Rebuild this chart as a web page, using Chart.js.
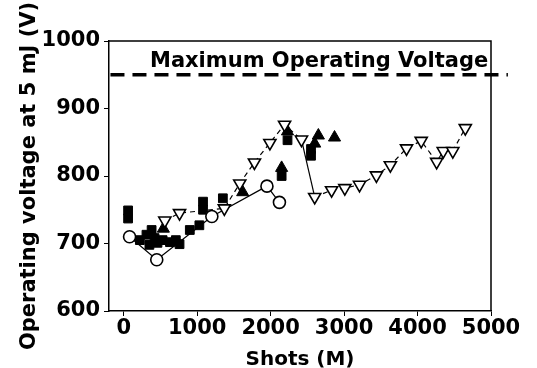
<!DOCTYPE html>
<html lang="en">
<head>
<meta charset="UTF-8" />
<title>Operating voltage vs shots</title>
<script src="https://cdn.jsdelivr.net/npm/chart.js"></script>
<style>
  html, body { margin: 0; padding: 0; background: #fff; }
</style>
</head>
<body>
<canvas id="voltChart" width="537" height="368"></canvas>
<script>
// open circles (solid line)
const circleShots = [80, 450, 1200, 1950, 2120];
const circleVolts = [710, 676, 740, 785, 761];

// open down-triangles (dashed line)
const downShots = [560, 760, 1370, 1580, 1780, 1990, 2190, 2420, 2600, 2830, 3010, 3210, 3440, 3630, 3850, 4050, 4260, 4350, 4480, 4650];
const downVolts = [734, 745, 752, 789, 820, 849, 876, 854, 769, 779, 782, 787, 801, 816, 841, 852, 821, 837, 837, 871];

// filled squares
const squareShots = [60, 60, 220, 310, 380, 350, 420, 460, 530, 630, 710, 760, 900, 1030, 1080, 1080, 1350, 2150, 2230, 2550, 2550];
const squareVolts = [749, 737, 705, 713, 720, 698, 708, 701, 705, 702, 705, 699, 720, 727, 762, 750, 767, 800, 853, 830, 840];

// filled up-triangles
const triShots = [540, 1620, 2150, 2230, 2600, 2650, 2870];
const triVolts = [722, 776, 812, 866, 848, 860, 857];

const maxVoltage = 950;
const maxLineShots = [-180, 5230];
const maxLabel = 'Maximum Operating Voltage';

const xTicks = [0, 1000, 2000, 3000, 4000, 5000];

const FONT = '"DejaVu Sans", Verdana, sans-serif';

function pts(xs, ys) {
  return xs.map((x, i) => ({ x: x, y: ys[i] }));
}

// box around plot + text over dashed line
const framePlugin = {
  id: 'frame',
  beforeDatasetsDraw(chart) {
    const a = chart.chartArea, ctx = chart.ctx;
    ctx.save();
    ctx.strokeStyle = '#000';
    ctx.lineWidth = 1.5;
    ctx.beginPath();
    ctx.moveTo(a.left, a.top);
    ctx.lineTo(a.right, a.top);
    ctx.lineTo(a.right, a.bottom);
    ctx.stroke();
    ctx.restore();
  },
  afterDraw(chart) {
    const ctx = chart.ctx;
    const x = chart.scales.x.getPixelForValue(2660);
    const y = chart.scales.y.getPixelForValue(maxVoltage);
    ctx.save();
    ctx.font = 'bold 21px ' + FONT;
    ctx.fillStyle = '#000';
    ctx.textAlign = 'center';
    ctx.textBaseline = 'alphabetic';
    ctx.fillText(maxLabel, x, y - 8);
    ctx.restore();
  }
};

const ctx = document.getElementById('voltChart').getContext('2d');
new Chart(ctx, {
  type: 'scatter',
  data: {
    datasets: [
      {
        label: 'max',
        type: 'line',
        data: maxLineShots.map(x => ({ x: x, y: maxVoltage })),
        borderColor: '#000',
        borderWidth: 3.5,
        borderDash: [14, 8],
        pointRadius: 0,
        clip: false,
        order: 0
      },
      {
        label: 'down',
        type: 'line',
        data: pts(downShots, downVolts),
        borderColor: '#000',
        borderWidth: 1.2,
        borderDash: [5, 4],
        segment: { borderDash: c => c.p0DataIndex === 7 ? [] : [5, 4] },
        pointStyle: 'triangle',
        rotation: 180,
        pointRadius: 7,
        pointBorderWidth: 1.6,
        pointBackgroundColor: '#fff',
        pointBorderColor: '#000',
        order: 1
      },
      {
        label: 'circle',
        type: 'line',
        data: pts(circleShots, circleVolts),
        borderColor: '#000',
        borderWidth: 1.2,
        pointStyle: 'circle',
        pointRadius: 6,
        pointBorderWidth: 1.6,
        pointBackgroundColor: '#fff',
        pointBorderColor: '#000',
        order: 2
      },
      {
        label: 'tri',
        data: pts(triShots, triVolts),
        pointStyle: 'triangle',
        pointRadius: 7,
        backgroundColor: '#000',
        borderColor: '#000',
        order: 3
      },
      {
        label: 'square',
        data: pts(squareShots, squareVolts),
        pointStyle: 'rect',
        pointRadius: 6.2,
        backgroundColor: '#000',
        borderColor: '#000',
        order: 4
      }
    ]
  },
  options: {
    responsive: false,
    animation: false,
    layout: { padding: { top: 41, right: 46, left: 0, bottom: 0 } },
    plugins: { legend: { display: false }, tooltip: { enabled: false } },
    scales: {
      x: {
        type: 'linear',
        min: -200,
        max: 5000,
        afterBuildTicks: s => { s.ticks = xTicks.map(v => ({ value: v })); },
        afterFit: s => { s.height = 57; },
        grid: { drawOnChartArea: false, drawTicks: true, tickLength: 5, color: '#000' },
        border: { color: '#000', width: 1.5 },
        ticks: { color: '#000', padding: 0, maxRotation: 0, callback: v => String(v), font: { family: FONT, size: 21, weight: 'bold' } },
        title: { display: true, text: 'Shots (M)', color: '#000', padding: 0, font: { family: FONT, size: 20, weight: 'bold', lineHeight: 0.85 } }
      },
      y: {
        min: 600,
        max: 1000,
        afterFit: s => { s.width = 109; },
        ticks: { stepSize: 100, color: '#000', padding: 4, callback: v => String(v), font: { family: FONT, size: 21, weight: 'bold' } },
        grid: { drawOnChartArea: false, drawTicks: true, tickLength: 5, color: '#000' },
        border: { color: '#000', width: 1.5 },
        title: { display: true, text: 'Operating voltage at 5 mJ (V)', color: '#000', padding: { top: 17, bottom: 0 }, font: { family: FONT, size: 21, weight: 'bold' } }
      }
    }
  },
  plugins: [framePlugin]
});
</script>
</body>
</html>
